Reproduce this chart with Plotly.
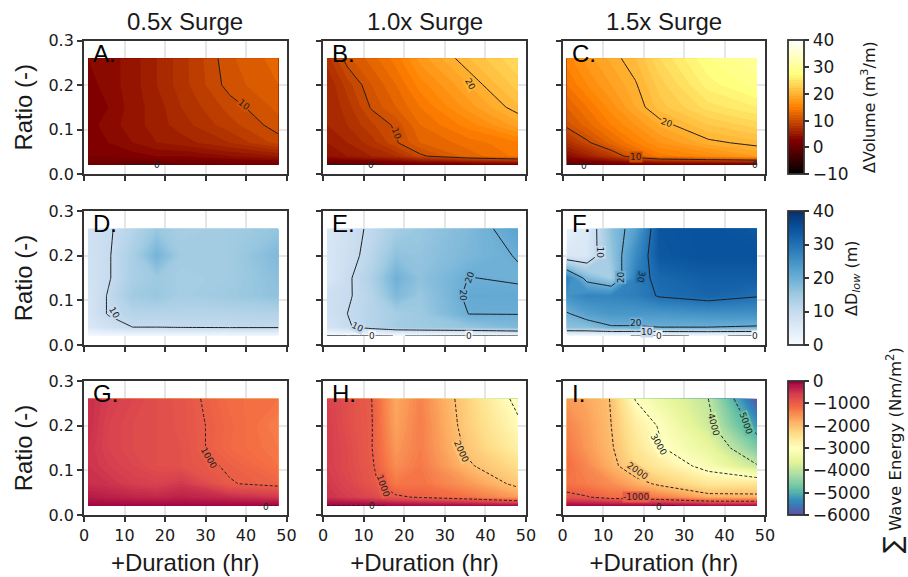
import plotly.graph_objects as go

W, H = 908, 577
duration = [1, 6, 12, 18, 24, 36, 48]
ratio = [0.02, 0.04, 0.07, 0.11, 0.15, 0.20, 0.26]

vol_a = [[0.5, 0.3, -0.2, -0.2, 0.2, 0.4, 0.5],
         [2, 2, 2.5, 3, 3, 4, 5],
         [2.5, 3, 4, 5, 5.5, 7, 9.4],
         [2.5, 3.5, 4.5, 5.5, 6.5, 8.6, 10.6],
         [2, 3, 4.5, 5.5, 7, 9.4, 11.3],
         [2.5, 3.5, 4.5, 6, 7.5, 10.5, 12],
         [3, 3.5, 4.5, 6, 7.5, 10.8, 12.5]]
vol_b = [[-0.3, -0.3, -0.2, 0.3, 0.4, 0.5, 0.6],
         [4, 5, 6, 7, 9.6, 12.5, 14.3],
         [5, 6, 7.5, 9.8, 12, 13.5, 14.8],
         [6, 7, 8.8, 10.3, 13, 15.5, 18.5],
         [6, 7.5, 10.2, 12, 14, 17.5, 20.8],
         [6, 8.5, 11, 13, 15.5, 19, 22.5],
         [7.5, 10.7, 12.5, 14.5, 17.5, 21, 24]]
vol_c = [[-0.3, -0.2, 0.3, 0.5, 0.5, 0.4, -0.2],
         [3.5, 5.5, 8, 11.8, 14.5, 16, 18],
         [7, 9.5, 12.5, 15, 17, 19.5, 20.6],
         [10.5, 12.5, 15, 17, 19.2, 22, 23.5],
         [12, 14, 16.5, 19, 21.5, 24.5, 26],
         [14, 16, 18, 19.8, 22.5, 26.5, 28.5],
         [15.5, 17.5, 19.3, 21, 24, 28, 30]]

dep_d = [[0.5, 0.8, 1, 1, 1, 1, 1],
         [6, 8, 10, 10, 10.3, 10.5, 10.5],
         [7, 10.3, 12, 12, 12, 12, 12.5],
         [7, 10.3, 14.5, 15.5, 14, 15, 16.5],
         [7.5, 9.6, 13.5, 15, 14, 14.5, 17],
         [8, 9.6, 13.5, 19, 14.5, 14.5, 18],
         [8, 9.5, 12, 15.5, 14, 14.5, 16]]
dep_e = [[-0.2, -0.2, -0.2, 0.03, -0.05, -0.3, -0.2],
         [7, 9.5, 12, 14.3, 15, 16, 18],
         [8, 10, 12, 14, 15, 20.1, 20.1],
         [8.5, 9.5, 12, 18, 15.5, 20.8, 21],
         [6, 9.3, 13, 19.5, 16.5, 20.1, 19.5],
         [6.5, 8.5, 11.5, 16.5, 16, 18.5, 20.2],
         [6, 8.3, 10.8, 14, 15.5, 18, 22]]
dep_f = [[0.2, 0.2, 0.2, -0.05, -0.3, 0.2, -0.3],
         [16.7, 17, 19.5, 19.5, 20, 20, 19.5],
         [19.5, 22.5, 24, 24, 24, 25, 25],
         [25, 27, 27, 28, 30.4, 31.9, 30.3],
         [28, 18, 14, 27.8, 31.5, 33, 33],
         [6, 6, 15.6, 25.8, 34, 35, 35],
         [3, 5.5, 16.75, 22.5, 34.3, 35, 34]]

eng_g = [[-30, -30, -30, -30, -30, -15, 10],
         [-250, -300, -350, -380, -320, -430, -550],
         [-450, -500, -600, -650, -550, -980, -1100],
         [-500, -600, -700, -800, -850, -1040, -1250],
         [-500, -650, -750, -800, -850, -1150, -1300],
         [-450, -650, -750, -800, -870, -1130, -1350],
         [-450, -600, -700, -800, -880, -1180, -1250]]
eng_h = [[30, 30, 15, -10, -30, -40, -50],
         [-500, -600, -720, -940, -1040, -1250, -1650],
         [-550, -700, -900, -1300, -1250, -1600, -2120],
         [-600, -750, -950, -1500, -1300, -1950, -2400],
         [-600, -750, -990, -1600, -1350, -2100, -2700],
         [-600, -800, -980, -1700, -1350, -2200, -2900],
         [-650, -800, -1000, -1750, -1400, -2250, -3150]]
eng_i = [[-20, -20, -20, -20, 10, -20, -20],
         [-850, -970, -1180, -1250, -1350, -1800, -1850],
         [-1250, -1350, -1500, -1800, -2100, -2550, -2500],
         [-1200, -1450, -1850, -2350, -2600, -3200, -3950],
         [-1300, -1600, -1950, -2500, -2950, -3500, -4600],
         [-1400, -1650, -2000, -2650, -3050, -3850, -5250],
         [-1600, -1750, -2020, -3030, -3400, -4000, -5900]]

panels = [vol_a, vol_b, vol_c, dep_d, dep_e, dep_f, eng_g, eng_h, eng_i]
letters = ["A.", "B.", "C.", "D.", "E.", "F.", "G.", "H.", "I."]
col_titles = ["0.5x Surge", "1.0x Surge", "1.5x Surge"]
bar_titles = ["ΔVolume (m<sup>3</sup>/m)", "ΔD<sub><i>low</i></sub> (m)",
              "<span style='font-size:25px'>∑</span> <span style='font-size:16.5px'>Wave Energy (Nm/m<sup>2</sup>)</span>"]

# contour labels: panel index, text, duration, ratio, rotation, colour behind the label
NO_BG = "rgba(0,0,0,0)"
contour_labels = [
    (0, "10", 39.6, 0.155, 40, "#d05200"), (0, "0", 18.1, 0.0194, 0, NO_BG),
    (1, "10", 18.1, 0.0896, 70, "#cc4d00"), (1, "20", 36.2, 0.2015, 60, "#ffb333"), (1, "0", 11.9, 0.0194, 0, NO_BG),
    (2, "20", 25.9, 0.1157, 20, "#ffb333"), (2, "10", 18.0, 0.038, 0, "#cc4d00"),
    (2, "0", 5.3, 0.0187, 0, NO_BG), (2, "0", 47.6, 0.0194, 0, NO_BG),
    (3, "10", 7.5, 0.071, 60, "#c6dbef"),
    (4, "10", 8.5, 0.041, 25, "#c6dbef"), (4, "20", 36.2, 0.1515, -70, "#6baed6"), (4, "20", 34.6, 0.11, 90, "#6baed6"),
    (4, "0", 12.0, 0.021, 0, "#f7fbff"), (4, "0", 36.0, 0.021, 0, "#f7fbff"),
    (5, "10", 9.2, 0.2075, 90, "#c6dbef"), (5, "20", 14.4, 0.1515, -90, "#6baed6"), (5, "30", 19.5, 0.153, 100, "#2171b5"),
    (5, "20", 18.0, 0.0485, 0, "#6baed6"), (5, "10", 20.9, 0.03, 0, "#c6dbef"),
    (5, "0", 23.9, 0.02, 0, "#f7fbff"), (5, "0", 47.6, 0.02, 0, "#f7fbff"),
    (6, "1000", 30.8, 0.127, 60, "#ea5e47"), (6, "0", 45.0, 0.0187, 0, NO_BG),
    (7, "1000", 14.9, 0.0657, 70, "#ea5e47"), (7, "2000", 34.2, 0.142, 65, "#fdc374"), (7, "0", 12.0, 0.0194, 0, NO_BG),
    (8, "-1000", 18.0, 0.0396, 0, "#e95c47"), (8, "2000", 18.5, 0.0985, 35, "#fdc374"), (8, "3000", 23.6, 0.158, 60, "#ffffbf"),
    (8, "4000", 37.2, 0.203, 75, "#cbe99c"), (8, "5000", 45.2, 0.205, 70, "#66c2a5"), (8, "0", 23.9, 0.0187, 0, NO_BG),
]

afmhot = [[0, "#000000"], [0.25, "#800000"], [0.5, "#ff8000"], [0.75, "#ffff80"], [1, "#ffffff"]]
blues = ["#f7fbff", "#deebf7", "#c6dbef", "#9ecae1", "#6baed6", "#4292c6", "#2171b5", "#08519c", "#08306b"]
spectral = ["#5e4fa2", "#3288bd", "#66c2a5", "#abdda4", "#e6f598", "#ffffbf", "#fee08b", "#fdae61", "#f46d43", "#d53e4f", "#9e0142"]
scales = [afmhot,
          [[i / 8, c] for i, c in enumerate(blues)],
          [[i / 10, c] for i, c in enumerate(spectral)]]
ranges = [(-10, 40), (0, 40), (-6000, 0)]
steps = [1, 0.25, 50]
line_levels = [(0, 30, 10), (0, 40, 10), (-5000, 0, 1000)]
bar_ticks = [list(range(-10, 41, 10)), list(range(0, 41, 10)), list(range(-6000, 1, 1000))]

col_px = [(84, 286.5), (323, 526), (562.7, 765)]
row_px = [(40.5, 174), (211, 345), (381, 515)]
BAR_X, BAR_W = 788, 16
bar_title_px = [(868, 107), (853, 278), (892, 450)]
TICK_FONT = dict(family="DejaVu Sans", size=16, color="#1a1a1a")
BAR_FONT = dict(family="DejaVu Sans", size=17, color="#1a1a1a")
TEXT = "Liberation Sans"
AX = "#333333"

fig = go.Figure()
layout = dict(width=W, height=H, autosize=False, paper_bgcolor="white", plot_bgcolor="white",
              margin=dict(l=0, r=0, t=0, b=0, autoexpand=False), showlegend=False,
              annotations=[])

for idx, z in enumerate(panels):
    r, c = divmod(idx, 3)
    sfx = "" if idx == 0 else str(idx + 1)
    xd = [col_px[c][0] / W, col_px[c][1] / W]
    yd = [1 - row_px[r][1] / H, 1 - row_px[r][0] / H]
    common = dict(showline=True, linecolor=AX, linewidth=1.8, mirror=True, ticks="outside",
                  ticklen=5, tickwidth=1.5, tickcolor=AX, showgrid=True, gridcolor="#e6e6e6",
                  gridwidth=1.5, zeroline=False, tickfont=TICK_FONT)
    xax = dict(common, domain=xd, range=[0, 50], tick0=0, dtick=10, anchor="y" + sfx,
               showticklabels=(r == 2))
    yax = dict(common, domain=yd, range=[0, 0.3], tick0=0, dtick=0.1, anchor="x" + sfx,
               showticklabels=(c == 0), tickformat=".1f")
    if r == 2:
        xax["title"] = dict(text="+Duration (hr)", font=dict(family=TEXT, size=24, color="#1a1a1a"), standoff=10)
    if c == 0:
        yax["title"] = dict(text="Ratio (-)", font=dict(family=TEXT, size=24, color="#1a1a1a"), standoff=9)
    layout["xaxis" + sfx] = xax
    layout["yaxis" + sfx] = yax

    zmin, zmax = ranges[r]
    fill = dict(x=duration, y=ratio, z=z, xaxis="x" + sfx, yaxis="y" + sfx, zmin=zmin, zmax=zmax,
                zauto=False, colorscale=scales[r], autocontour=False,
                contours=dict(coloring="fill", start=zmin, end=zmax, size=steps[r], showlines=False),
                line=dict(width=0, smoothing=0), hoverinfo="skip", showscale=False)
    if c == 0:
        fill["showscale"] = True
        fill["colorbar"] = dict(x=BAR_X / W, xanchor="left", xpad=0, ypad=0, thickness=BAR_W,
                                thicknessmode="pixels", len=(yd[1] - yd[0]), lenmode="fraction",
                                y=(yd[0] + yd[1]) / 2, yanchor="middle", outlinewidth=1.8,
                                outlinecolor=AX, ticks="outside", ticklen=5, tickwidth=1.5,
                                tickcolor=AX, tickvals=bar_ticks[r], tickfont=BAR_FONT)
    fig.add_trace(go.Contour(**fill))

    lo, hi, sz = line_levels[r]
    fig.add_trace(go.Contour(x=duration, y=ratio, z=z, xaxis="x" + sfx, yaxis="y" + sfx,
                             autocontour=False, showscale=False, hoverinfo="skip",
                             contours=dict(coloring="none", start=lo, end=hi, size=sz),
                             line=dict(color="#1f1f1f", width=1, smoothing=0,
                                       dash="3px,2px" if r == 2 else "solid")))

    layout["annotations"].append(dict(text=letters[idx], xref="paper", yref="paper",
                                      x=(col_px[c][0] + 7) / W, y=1 - (row_px[r][0] - 3) / H,
                                      xanchor="left", yanchor="top", showarrow=False,
                                      font=dict(family=TEXT, size=24, color="black")))

for p, txt, dx, dy, ang, bg in contour_labels:
    sfx = "" if p == 0 else str(p + 1)
    layout["annotations"].append(dict(text=txt, xref="x" + sfx, yref="y" + sfx, x=dx, y=dy, textangle=ang,
                                      showarrow=False, bgcolor=bg, borderpad=0,
                                      font=dict(family="DejaVu Sans", size=9, color="#222222")))

for c, t in enumerate(col_titles):
    layout["annotations"].append(dict(text=t, xref="paper", yref="paper",
                                      x=sum(col_px[c]) / 2 / W, y=1 - 37 / H, xanchor="center",
                                      yanchor="bottom", showarrow=False,
                                      font=dict(family=TEXT, size=24, color="#1a1a1a")))

for (px, py), t in zip(bar_title_px, bar_titles):
    layout["annotations"].append(dict(text=t, xref="paper", yref="paper", x=px / W, y=1 - py / H,
                                      xanchor="center", yanchor="middle", textangle=-90, showarrow=False,
                                      font=dict(family="DejaVu Sans", size=16, color="#1a1a1a")))

fig.update_layout(**layout)
fig.write_html("out.html", post_script="document.body.style.margin='0';",
               config=dict(displayModeBar=False))
